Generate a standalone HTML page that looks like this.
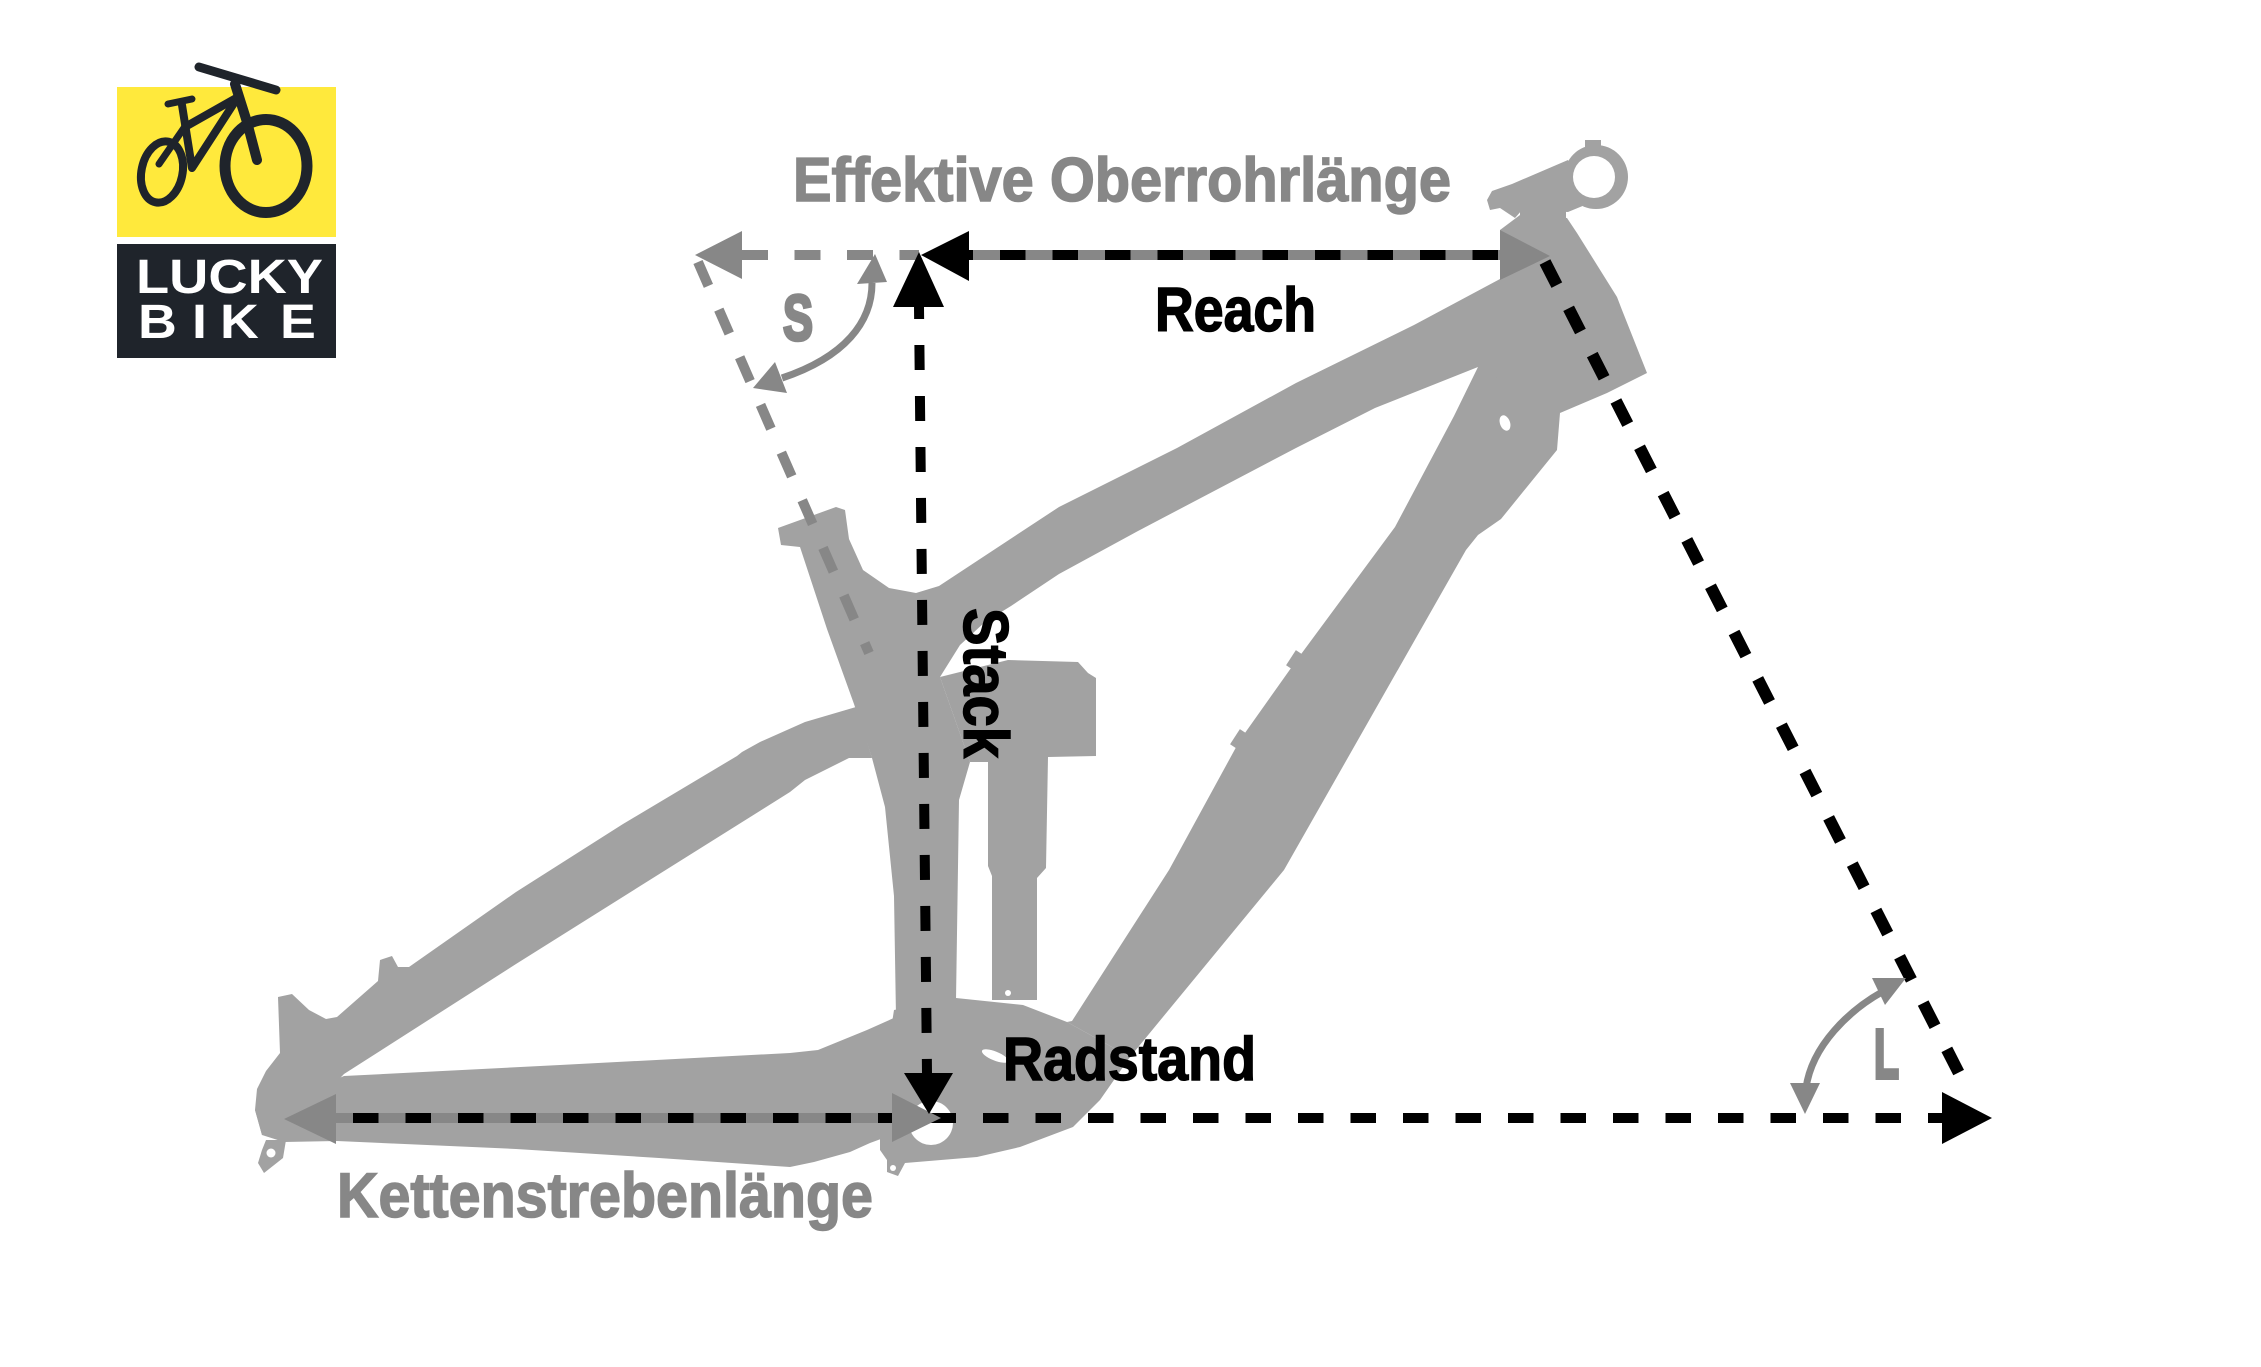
<!DOCTYPE html>
<html>
<head>
<meta charset="utf-8">
<style>
html,body{margin:0;padding:0;background:#fff;}
svg{display:block;}
text{font-family:"Liberation Sans Narrow","Liberation Sans",sans-serif;font-weight:bold;}
</style>
</head>
<body>
<svg width="2261" height="1367" viewBox="0 0 2261 1367" xmlns="http://www.w3.org/2000/svg">
<rect width="2261" height="1367" fill="#ffffff"/>

<!-- ===== LOGO ===== -->
<rect x="117" y="87" width="219" height="150" fill="#ffe93c"/>
<rect x="117" y="244" width="219" height="114" fill="#1f242b"/>
<g stroke="#1f242b" fill="none" stroke-linecap="round" stroke-linejoin="round">
  <ellipse cx="266" cy="166" rx="41" ry="46.5" stroke-width="11"/>
  <ellipse cx="162" cy="172" rx="20.5" ry="31" stroke-width="8" transform="rotate(12 162 172)"/>
  <line x1="199" y1="67" x2="276" y2="90" stroke-width="9"/>
  <polyline points="235,84 247,122 257,160" stroke-width="10"/>
  <line x1="168" y1="104" x2="192" y2="99" stroke-width="7"/>
  <polyline points="182,105 192,168 238,97" stroke-width="8"/>
  <line x1="185" y1="127" x2="238" y2="97" stroke-width="8"/>
  <line x1="186" y1="125" x2="159" y2="164" stroke-width="7"/>
</g>
<text x="136" y="293" font-size="48" fill="#ffffff" textLength="187" lengthAdjust="spacingAndGlyphs" style="font-family:'Liberation Sans',sans-serif;font-weight:bold">LUCKY</text>
<text transform="scale(1.12 1)" x="123.2 171.4 196.4 250" y="338" font-size="48" fill="#ffffff" style="font-family:'Liberation Sans',sans-serif;font-weight:bold">BIKE</text>

<!-- ===== FRAME ===== -->
<g fill="#a2a2a2">
  <!-- seat stay -->
  <polygon points="872,758 856,707 805,722 760,742 742,752 737,756 623,824 516,892 409,967 398,967 392,956 380,960 378,981 337,1017 326,1019 309,1010 292,994 278,997 280,1053 266,1071 257,1089 255,1110 262,1135 300,1120 344,1074 516,964 790,792 805,780 849,758"/>
  <!-- chainstay -->
  <polygon points="344,1076 560,1065 790,1053 818,1050 867,1030 896,1017 905,1130 870,1143 850,1152 814,1162 790,1167 659,1158 516,1149 337,1141 284,1142 262,1135 255,1110 300,1095"/>
  <!-- hanger -->
  <polygon points="266,1140 286,1140 283,1158 264,1173 258,1163 262,1150"/>
  <!-- seat tube -->
  <polygon points="778,528 836,507 845,510 849,539 863,570 889,588 916,593 939,586 950,620 940,677 970,762 959,800 956,1000 956,1100 905,1130 896,1017 894,896 885,807 872,758 854,704 827,629 800,547 781,545"/>
  <!-- top tube -->
  <polygon points="1500,279 1414,325 1296,383 1177,448 1059,507 939,586 935,640 940,677 960,645 985,622 1011,606 1059,574 1138,531 1296,448 1375,408 1478,367 1530,330"/>
  <!-- shock -->
  <polygon points="940,677 1008,660 1078,662 1088,673 1096,678 1096,756 1048,757 1046,868 1037,878 1037,1000 992,1000 992,876 988,866 988,762 970,762"/>
  <!-- BB / linkage -->
  <polygon points="894,1010 956,998 1023,1005 1067,1022 1130,1057 1100,1100 1073,1127 1020,1147 977,1157 905,1163 898,1176 887,1172 887,1160 880,1150 880,1100"/>
  <!-- down tube -->
  <polygon points="1478,367 1520,330 1560,413 1557,450 1501,519 1478,535 1466,550 1284,870 1130,1057 1067,1022 1072,1021 1169,870 1240,740 1296,661 1395,527 1454,416"/>
  <rect x="1290" y="652" width="12" height="18" transform="rotate(33 1296 661)"/>
  <rect x="1234" y="731" width="12" height="18" transform="rotate(33 1240 740)"/>
  <!-- head tube -->
  <polygon points="1500,230 1520,215 1567,218 1577,233 1617,297 1622,310 1647,373 1607,393 1560,413 1478,367 1500,279"/>
  <!-- stem -->
  <polygon points="1487,200 1492,191 1512,184 1568,160 1585,205 1568,212 1522,210 1515,218 1500,208 1490,210"/>
  <rect x="1520" y="206" width="46" height="14"/>
  <circle cx="1596" cy="177" r="32"/>
  <rect x="1585" y="140" width="16" height="10"/>
</g>
<!-- frame holes -->
<g fill="#ffffff">
  <circle cx="1594" cy="177" r="21"/>
  <circle cx="931" cy="1123" r="22"/>
  <circle cx="271" cy="1153" r="4.5"/>
  <circle cx="893" cy="1168" r="3"/>
  <circle cx="1008" cy="993" r="3"/>
  <ellipse cx="1505" cy="423" rx="5" ry="8" transform="rotate(-20 1505 423)"/>
  <ellipse cx="995" cy="1056" rx="14" ry="4.5" transform="rotate(22 995 1056)"/>
</g>

<!-- ===== GREY SEAT ANGLE LINE ===== -->
<line x1="698" y1="262" x2="869" y2="653" stroke="#878787" stroke-width="10" stroke-dasharray="26 26"/>

<!-- ===== TOP HORIZONTAL (Oberrohr / Reach) ===== -->
<line x1="742" y1="255" x2="919" y2="255" stroke="#878787" stroke-width="10" stroke-dasharray="26 26.5"/>
<line x1="960" y1="255" x2="1500" y2="255" stroke="#878787" stroke-width="10"/>
<line x1="947.5" y1="255" x2="1500" y2="255" stroke="#000" stroke-width="10" stroke-dasharray="25.5 27"/>
<polygon points="695,255 742,231 742,279" fill="#878787"/>
<polygon points="1550,256 1500,230 1500,280" fill="#878787"/>

<!-- ===== STACK (vertical) ===== -->
<line x1="919" y1="307" x2="927" y2="1073" stroke="#000" stroke-width="10" stroke-dasharray="25 26" stroke-dashoffset="13"/>

<!-- ===== HEAD ANGLE LINE ===== -->
<line x1="1545" y1="262" x2="1965" y2="1085" stroke="#000" stroke-width="12" stroke-dasharray="26 26"/>

<!-- ===== BOTTOM HORIZONTAL ===== -->
<line x1="336" y1="1118" x2="892" y2="1118" stroke="#878787" stroke-width="10"/>
<line x1="353" y1="1118" x2="1942" y2="1118" stroke="#000" stroke-width="10" stroke-dasharray="25.5 27"/>
<polygon points="284,1119 336,1094 336,1144" fill="#878787"/>
<polygon points="941,1118 892,1093 892,1142" fill="#878787"/>
<polygon points="1992,1118 1942,1092 1942,1144" fill="#000"/>

<!-- black arrowheads -->
<polygon points="921,255 969,231 969,281" fill="#000"/>
<polygon points="919,252 893,307 944,307" fill="#000"/>
<polygon points="929,1114 904,1073 953,1073" fill="#000"/>

<!-- ===== ANGLE ARCS ===== -->
<path d="M 872 283 C 872 322 845 357 782 378" fill="none" stroke="#878787" stroke-width="7"/>
<polygon points="875,254 857,284 887,282" fill="#878787"/>
<polygon points="753,388 775,362 787,393" fill="#878787"/>

<path d="M 1882 992 C 1850 1010 1812 1045 1806 1088" fill="none" stroke="#878787" stroke-width="7"/>
<polygon points="1906,978 1872,978 1885,1005" fill="#878787"/>
<polygon points="1805,1114 1790,1083 1820,1083" fill="#878787"/>

<!-- ===== LABELS ===== -->
<text x="793" y="201" font-size="62" fill="#878787" stroke="#878787" stroke-width="1.5" textLength="658" lengthAdjust="spacingAndGlyphs">Effektive Oberrohrlänge</text>
<text x="1155" y="331" font-size="62" fill="#000" stroke="#000" stroke-width="1.5" textLength="161" lengthAdjust="spacingAndGlyphs">Reach</text>
<text x="1003" y="1080" font-size="61" fill="#000" stroke="#000" stroke-width="1.5" textLength="253" lengthAdjust="spacingAndGlyphs">Radstand</text>
<text x="337" y="1217" font-size="63" fill="#878787" stroke="#878787" stroke-width="1.5" textLength="536" lengthAdjust="spacingAndGlyphs">Kettenstrebenlänge</text>
<text transform="translate(964,608) rotate(90)" x="0" y="0" font-size="63" fill="#000" stroke="#000" stroke-width="1.5" textLength="150" lengthAdjust="spacingAndGlyphs">Stack</text>
<text x="783" y="340" font-size="64" fill="#878787" stroke="#878787" stroke-width="3.5" textLength="30" lengthAdjust="spacingAndGlyphs">S</text>
<text x="1874" y="1078" font-size="70" fill="#878787" stroke="#878787" stroke-width="4" textLength="25" lengthAdjust="spacingAndGlyphs">L</text>
</svg>
</body>
</html>
